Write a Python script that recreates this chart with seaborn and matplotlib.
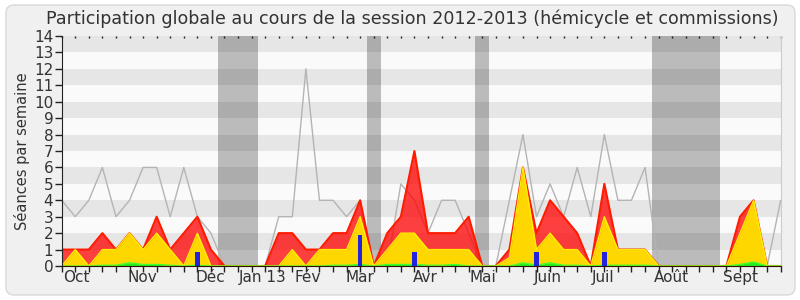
import numpy as np
import pandas as pd
import matplotlib
matplotlib.use("Agg")
import matplotlib.pyplot as plt
import seaborn as sns
from matplotlib.patches import FancyBboxPatch

# ---- data (one value per week, 54 weeks) ----
weeks = list(range(54))
max_seances = [4, 3, 4, 6, 3, 4, 6, 6, 3, 6, 3, 2, 0, 0, 0,
               0, 3, 3, 12, 4, 4, 3, 4, 0, 0, 5, 4, 2, 4, 4, 2, 0, 0, 4, 8,
               3, 5, 3, 6, 3, 8, 4, 4, 6, 0, 0, 0, 0, 0, 0, 0, 0, 0, 4]
total_presence = [1, 1, 1, 2, 1, 2, 1, 3, 1, 2, 3, 1, 0, 0, 0,
                  0, 2, 2, 1, 1, 2, 2, 4, 0, 2, 3, 7, 2, 2, 2, 3, 0, 0, 1, 6,
                  2, 4, 3, 2, 0, 5, 1, 1, 1, 0, 0, 0, 0, 0, 0, 3, 4, 0, 0]
hemicycle = [0, 1, 0, 1, 1, 2, 1, 2, 1, 0, 2, 0, 0, 0, 0,
             0, 0, 1, 0, 1, 1, 1, 3, 0, 1, 2, 2, 1, 1, 1, 1, 0, 0, 0.5, 6,
             1, 2, 1, 1, 0, 3, 1, 1, 1, 0, 0, 0, 0, 0, 0, 2, 4, 0, 0]
interventions = [0, 0, 0, 0.05, 0.05, 0.2, 0.1, 0.1, 0.05, 0, 0.05, 0, 0, 0, 0,
                 0, 0, 0, 0, 0, 0.05, 0.05, 0.1, 0, 0.1, 0.1, 0.1, 0.05, 0.05, 0.1, 0, 0, 0, 0, 0.2,
                 0.05, 0.2, 0.05, 0.05, 0, 0.05, 0.05, 0.05, 0.05, 0, 0, 0, 0, 0, 0, 0.1, 0.25, 0, 0]
questions = [0, 0, 0, 0, 0, 0, 0, 0, 0, 0, 0.87, 0, 0, 0, 0,
             0, 0, 0, 0, 0, 0, 0, 1.9, 0, 0, 0, 0.87, 0, 0, 0, 0, 0, 0, 0, 0,
             0.87, 0, 0, 0, 0, 0.87, 0, 0, 0, 0, 0, 0, 0, 0, 0, 0, 0, 0, 0]
vacances = [(11.5, 14.5), (22.5, 23.5), (30.5, 31.5), (43.5, 48.5)]
month_labels = ["Oct", "Nov", "Déc", "Jan 13", "Fév", "Mar", "Avr", "Mai",
                "Juin", "Juil", "Août", "Sept"]
month_pos = [1.1, 5.92, 10.93, 14.84, 18.16, 21.99, 26.78, 31.06, 35.85, 39.9, 44.92, 50.04]

df = pd.DataFrame({"semaine": weeks, "max": max_seances, "total": total_presence,
                   "hemi": hemicycle, "interv": interventions, "questions": questions})

sns.set_style("ticks")
plt.rcParams['font.family'] = ['DejaVu Sans']

fig = plt.figure(figsize=(8, 3), dpi=100, facecolor="white")
fig.patches.append(FancyBboxPatch((6, 5), 789, 290, boxstyle="round,pad=0,rounding_size=8",
                                  transform=None, facecolor="#f0f0f0", edgecolor="#d9d9d9",
                                  linewidth=1, zorder=-10))
ax = fig.add_axes([61.7 / 800, 34 / 300, 719 / 800, 230 / 300])
ax.set_facecolor("#fafafa")

# horizontal bands
for k in range(7):
    ax.axhspan(2 * k + 1, 2 * k + 2, color="#e6e6e6", lw=0, zorder=0)
# vacations
for a, b in vacances:
    ax.axvspan(a, b, color="black", alpha=0.25, lw=0, zorder=1)

sns.lineplot(data=df, x="semaine", y="max", ax=ax, color="#b4b4b4", lw=1, zorder=2)
ax.fill_between(df["semaine"], 0, df["total"], facecolor="#ff0000", alpha=0.75, lw=0, zorder=3)
ax.plot(df["semaine"], df["total"], color="#ff1a00", lw=1.5, zorder=3.5)
ax.fill_between(df["semaine"], 0, df["hemi"], facecolor="#ffd700", lw=0, zorder=4)
ax.plot(df["semaine"], df["hemi"], color="#ffee00", lw=1.0, zorder=4.5)
ax.fill_between(df["semaine"], 0, df["interv"], facecolor="#22ee22", lw=0, zorder=5)
ax.plot(df["semaine"], df["interv"], color="#33ff33", lw=0.8, zorder=5.5)
sns.barplot(data=df, x="semaine", y="questions", native_scale=True, width=0.33,
            color="#2323dd", saturation=1, linewidth=0, ax=ax, zorder=6)

ax.set_xlim(0, 53)
ax.set_ylim(0, 14)
ax.set_yticks(range(15))
ax.set_xticks(weeks)
ax.set_xticklabels([])
ax.set_xticks(month_pos, minor=True)
ax.set_xticklabels(month_labels, minor=True, fontsize=11, color="#333333")
ax.tick_params(axis="x", which="major", length=4, width=1, color="#222222", direction="out")
ax.tick_params(axis="x", which="minor", length=0, pad=3)
ax.tick_params(axis="y", length=5, width=1, color="#222222", labelsize=11,
               labelcolor="#333333", pad=1)
ax.set_xlabel("")
ax.set_ylabel("Séances par semaine", fontsize=10.5, color="#333333", labelpad=3)
ax.spines["top"].set_visible(False)
ax.spines["right"].set_color("#cccccc")
ax.spines["left"].set_color("#222222")
ax.spines["bottom"].set_color("#331100")
for s in ax.spines.values():
    s.set_zorder(10)

# small dotted ticks along the top edge
top = ax.secondary_xaxis("top")
top.set_xticks(weeks)
top.set_xticklabels([])
top.tick_params(axis="x", direction="in", length=1.5, width=1, color="#222222")
top.spines["top"].set_visible(False)

fig.text(412 / 800, 1 - 19 / 300,
         "Participation globale au cours de la session 2012-2013 (hémicycle et commissions)",
         ha="center", va="center", fontsize=12.6, color="#333333")

fig.savefig("out.png", dpi=100, facecolor=fig.get_facecolor())
